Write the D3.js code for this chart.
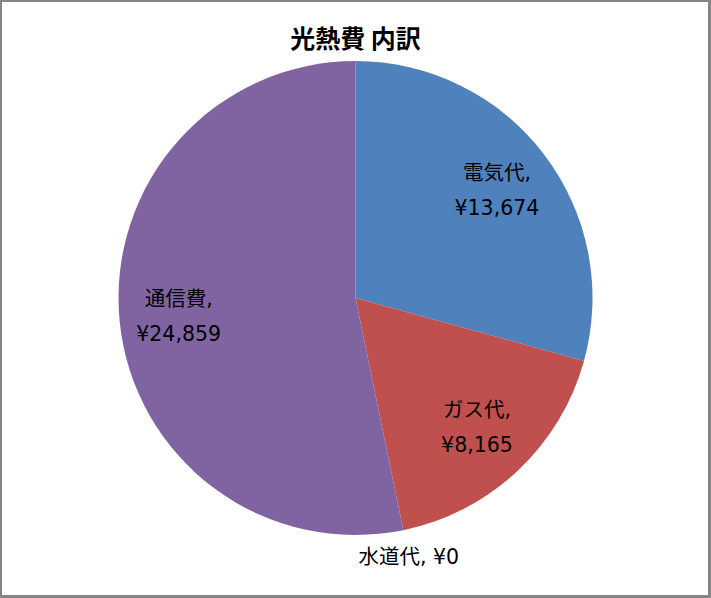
<!DOCTYPE html>
<html><head><meta charset="utf-8">
<script src="https://cdn.jsdelivr.net/npm/d3@7"></script>
<style>body{margin:0;background:#fff;} svg{display:block;}</style>
</head><body>
<script>
const categories = ["電気代", "ガス代", "水道代", "通信費"];
const values = [13674, 8165, 0, 24859];
const colors = ["#4F81BD", "#C0504D", "#9BBB59", "#8064A2"];
const title = "光熱費 内訳";

const W = 711, H = 598;
const cx = 355.5, cy = 298, R = 237;
const font = "'DejaVu Sans', 'Noto Sans CJK JP', sans-serif";
const titleFont = "'Noto Sans CJK JP', sans-serif";

const svg = d3.select("body").append("svg").attr("width", W).attr("height", H);
svg.append("rect").attr("x", 1).attr("y", 1).attr("width", W - 3).attr("height", H - 3)
  .attr("fill", "#fff").attr("stroke", "#868686").attr("stroke-width", 2);
svg.append("line").attr("x1", W - 1.5).attr("x2", W - 1.5).attr("y1", 0).attr("y2", H).attr("stroke", "#868686").attr("stroke-width", 3);
svg.append("line").attr("x1", 0).attr("x2", W).attr("y1", H - 1.5).attr("y2", H - 1.5).attr("stroke", "#868686").attr("stroke-width", 3);

svg.append("text").attr("x", cx).attr("y", 48).attr("text-anchor", "middle")
  .attr("font-family", titleFont).attr("font-weight", "bold").attr("font-size", 25).text(title);

const data = categories.map((c, i) => ({name: c, value: values[i], color: colors[i]}));
const pie = d3.pie().sort(null).value(d => d.value);
const arcs = pie(data);
const arc = d3.arc().innerRadius(0).outerRadius(R);
const g = svg.append("g").attr("transform", `translate(${cx},${cy})`);
g.selectAll("path").data(arcs).join("path").attr("d", arc).attr("fill", d => d.data.color);

const fmt = v => "¥" + d3.format(",")(v);
const labR = R * 0.75;
arcs.forEach(a => {
  const mid = (a.startAngle + a.endAngle) / 2;
  if (a.data.value === 0) {
    const x = Math.sin(mid) * (R + 27), y = -Math.cos(mid) * (R + 27);
    g.append("text").attr("x", x).attr("y", y).attr("text-anchor", "middle").attr("dy", "0.35em")
      .attr("font-family", font).attr("font-size", 20.5).attr("fill", "#000")
      .text(a.data.name + ", " + fmt(a.data.value));
  } else {
    const x = Math.sin(mid) * labR, y = -Math.cos(mid) * labR;
    const t = g.append("text").attr("text-anchor", "middle")
      .attr("font-family", font).attr("font-size", 20.5).attr("fill", "#000");
    t.append("tspan").attr("x", x).attr("y", y - 17.5).attr("dy", "0.35em").text(a.data.name + ",");
    t.append("tspan").attr("x", x).attr("y", y + 17.5).attr("dy", "0.35em").text(fmt(a.data.value));
  }
});
</script>
</body></html>
